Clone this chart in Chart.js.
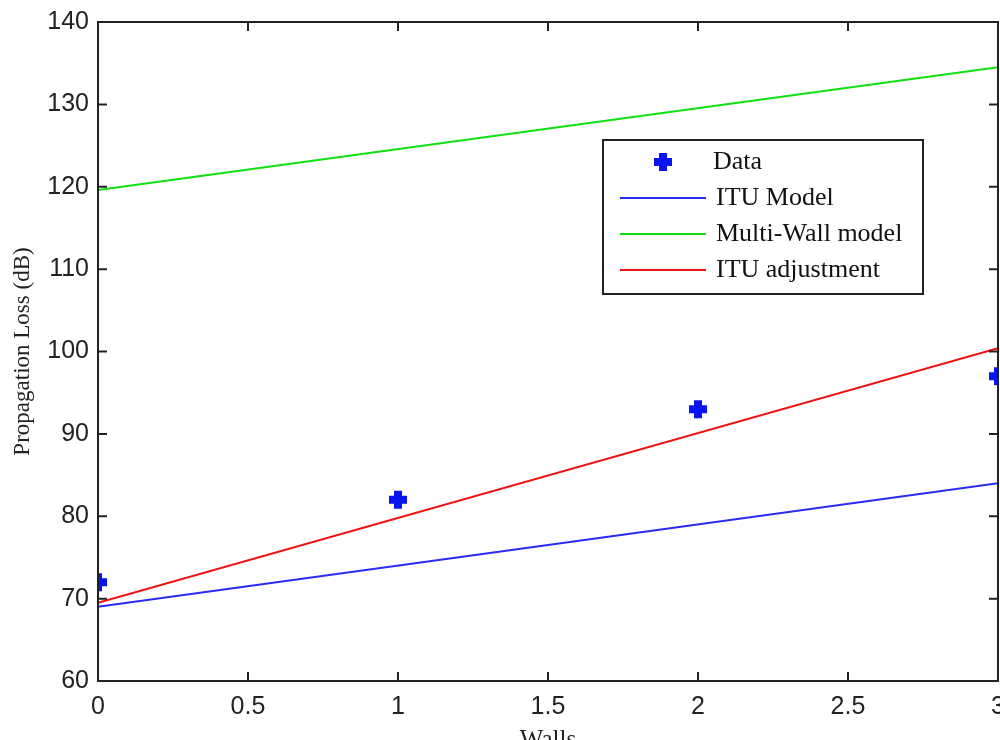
<!DOCTYPE html>
<html>
<head>
<meta charset="utf-8">
<script src="https://cdn.jsdelivr.net/npm/chart.js@4"></script>
<style>
  html, body { margin: 0; padding: 0; background: #fff; overflow: hidden; }
  #wrap { width: 1040px; height: 755px; }
</style>
</head>
<body>
<div id="wrap"><canvas id="c"></canvas></div>
<script>
// walls crossed vs measured / modelled loss
var walls = [0, 1, 2, 3];
var measured = [72, 82, 93, 97];
var lineWalls = [0, 3];
var ituModel = [69, 84];
var multiWall = [119.6, 134.5];
var ituAdjust = [69.5, 100.4];
var yTicks = [60, 70, 80, 90, 100, 110, 120, 130, 140];
var xTicks = [0, 0.5, 1, 1.5, 2, 2.5, 3];

function pts(xs, ys) {
  return xs.map(function (x, i) { return { x: x, y: ys[i] }; });
}

// frame with inward ticks, matlab style
var frame = {
  id: 'frame',
  afterDatasetsDraw: function (chart) {
    var ctx = chart.ctx, a = chart.chartArea;
    var xs = chart.scales.x, ys = chart.scales.y;
    ctx.save();
    ctx.strokeStyle = '#222';
    ctx.lineWidth = 2;
    ctx.strokeRect(a.left, a.top, a.right - a.left, a.bottom - a.top);
    ctx.beginPath();
    yTicks.forEach(function (v) {
      var p = ys.getPixelForValue(v);
      ctx.moveTo(a.left, p); ctx.lineTo(a.left + 9, p);
      ctx.moveTo(a.right, p); ctx.lineTo(a.right - 9, p);
    });
    xTicks.forEach(function (v) {
      var p = xs.getPixelForValue(v);
      ctx.moveTo(p, a.bottom); ctx.lineTo(p, a.bottom - 9);
      ctx.moveTo(p, a.top); ctx.lineTo(p, a.top + 9);
    });
    ctx.stroke();
    ctx.restore();
  }
};

var boxLegend = {
  id: 'boxLegend',
  afterDraw: function (chart) {
    var ctx = chart.ctx;
    var x0 = 603, y0 = 140, w = 320, h = 154;
    ctx.save();
    ctx.fillStyle = '#fff';
    ctx.fillRect(x0, y0, w, h);
    ctx.strokeStyle = '#222';
    ctx.lineWidth = 2;
    ctx.strokeRect(x0, y0, w, h);
    ctx.font = '26px "Liberation Serif", serif';
    ctx.textBaseline = 'middle';
    var rows = [162, 198, 234, 270];
    chart.data.datasets.forEach(function (ds, i) {
      var y = rows[i];
      if (ds.showLine) {
        ctx.strokeStyle = ds.borderColor;
        ctx.lineWidth = 2;
        ctx.beginPath();
        ctx.moveTo(620, y); ctx.lineTo(706, y);
        ctx.stroke();
      } else {
        ctx.strokeStyle = ds.borderColor;
        ctx.lineWidth = 8;
        ctx.beginPath();
        ctx.moveTo(654, y); ctx.lineTo(672, y);
        ctx.moveTo(663, y - 9); ctx.lineTo(663, y + 9);
        ctx.stroke();
      }
      ctx.fillStyle = '#111';
      ctx.fillText(ds.label, i === 0 ? 713 : 716, y);
    });
    ctx.restore();
  }
};

new Chart(document.getElementById('c'), {
  type: 'scatter',
  data: {
    datasets: [
      {
        label: 'Data',
        data: pts(walls, measured),
        showLine: false,
        pointStyle: 'cross',
        pointRadius: 9,
        pointBorderWidth: 8,
        borderColor: '#0a14f0',
        backgroundColor: '#0a14f0'
      },
      {
        label: 'ITU Model',
        data: pts(lineWalls, ituModel),
        showLine: true,
        pointRadius: 0,
        borderWidth: 2,
        borderColor: '#2a2af5'
      },
      {
        label: 'Multi-Wall model',
        data: pts(lineWalls, multiWall),
        showLine: true,
        pointRadius: 0,
        borderWidth: 2,
        borderColor: '#10e010'
      },
      {
        label: 'ITU adjustment',
        data: pts(lineWalls, ituAdjust),
        showLine: true,
        pointRadius: 0,
        borderWidth: 2,
        borderColor: '#f01010'
      }
    ]
  },
  options: {
    responsive: true,
    maintainAspectRatio: false,
    animation: false,
    layout: { padding: { top: 22, right: 42, left: 0, bottom: 0 } },
    plugins: { legend: { display: false }, tooltip: { enabled: false } },
    scales: {
      x: {
        type: 'linear', min: 0, max: 3,
        afterBuildTicks: function (s) { s.ticks = xTicks.map(function (v) { return { value: v }; }); },
        afterFit: function (s) { s.height = 74; },
        grid: { display: false },
        border: { display: false },
        ticks: {
          padding: 3,
          color: '#222',
          font: { family: '"Liberation Sans", Arial, sans-serif', size: 25 },
          maxRotation: 0,
          callback: function (v) { return String(v); }
        },
        title: {
          display: true, text: 'Walls', color: '#222',
          font: { family: '"Liberation Serif", serif', size: 25 },
          padding: 0
        }
      },
      y: {
        min: 60, max: 140,
        afterBuildTicks: function (s) { s.ticks = yTicks.map(function (v) { return { value: v }; }); },
        afterFit: function (s) { s.width = 98; },
        grid: { display: false },
        border: { display: false },
        ticks: {
          padding: 1,
          color: '#222',
          font: { family: '"Liberation Sans", Arial, sans-serif', size: 25 },
          callback: function (v) { return String(v); }
        },
        title: {
          display: true, text: 'Propagation Loss (dB)', color: '#222',
          font: { family: '"Liberation Serif", serif', size: 23 },
          padding: { top: 9, bottom: 0 }
        }
      }
    }
  },
  plugins: [frame, boxLegend]
});
</script>
</body>
</html>
